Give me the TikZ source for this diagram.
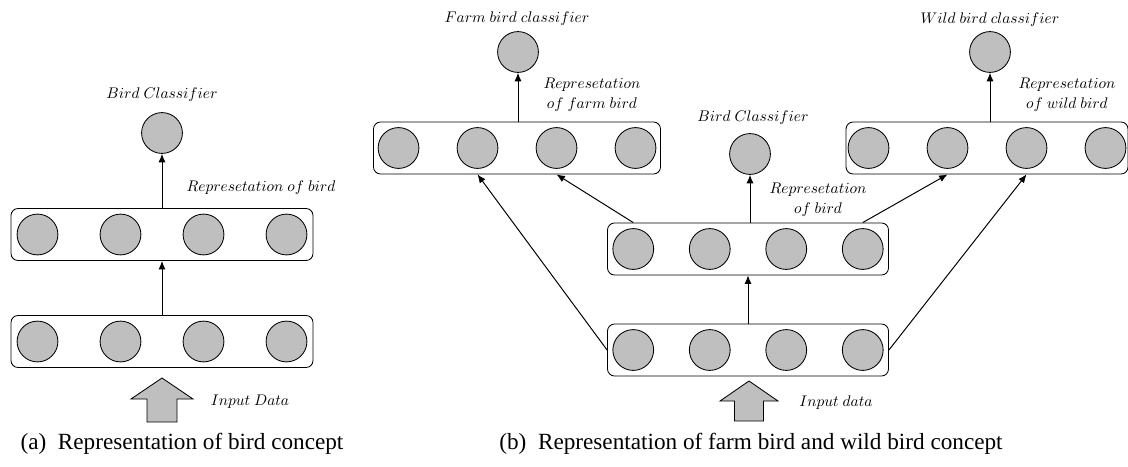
\documentclass[tikz,border=0pt]{standalone}
\usepackage{fontspec}
\setmainfont{Liberation Serif}
\usepackage{tikz}
\usetikzlibrary{arrows.meta, positioning}

% one layer: a rounded box with four units in it
\newcommand{\neuronlayer}[5]{%
  \node[layerbox, minimum width={#4*0.025cm}] (#1) at (#2,#3) {};
  \foreach \k in {1,...,4}
    \node[unit] (#1-\k) at ({#2+(\k-2.5)*#5},#3) {};
}

\begin{document}
\begin{tikzpicture}[x=0.025cm, y=-0.025cm,
  unit/.style={circle, draw, line width=0.6pt, fill=gray!50, minimum size=1.02cm, inner sep=0pt},
  layerbox/.style={draw, line width=0.6pt, rounded corners=5pt, minimum height=1.3cm, inner sep=0pt},
  link/.style={-{Latex[length=6pt,width=5pt]}, line width=0.7pt},
  tag/.style={font=\fontsize{11.3}{14}\selectfont, align=center, inner sep=0pt},
  caption/.style={font=\fontsize{16.5}{20}\selectfont, inner sep=0pt},
  bigarrow/.style={draw, line width=0.6pt, fill=gray!50}]
\useasboundingbox (0,0) rectangle (1128,466);

% (a) bird concept
\neuronlayer{inA}{162}{341.5}{302}{83}
\neuronlayer{repA}{162}{234.5}{302}{83}
\node[unit] (clsA) at (162,133) {};
\draw[link] (inA.north) -- (repA.south);
\draw[link] (repA.north) -- (clsA.south);
\node[tag] (clsAlbl) at (162,95) {$Bird\ Classifier$};
\node[tag] (repAlbl) at (261,188) {$Represetation\ of\ bird$};
\draw[bigarrow] (162,378) -- ++(31,21) -- ++(-16,0) -- ++(0,23) -- ++(-30,0) -- ++(0,-23) -- ++(-16,0) -- cycle;
\node[tag] (inAlbl) at (250,402) {$Input\ Data$};
\node[caption] (capA) at (182,444) {(a)\enspace Representation of bird concept};

% (b) farm bird and wild bird concept
\neuronlayer{inB}{748}{350}{281}{76.5}
\neuronlayer{repB}{748}{249}{281}{76.5}
\neuronlayer{farmRep}{517}{148}{287}{79}
\neuronlayer{wildRep}{987}{148}{282}{79}
\node[unit] (midCls) at (750,154) {};
\node[unit] (farmCls) at (518,52) {};
\node[unit] (wildCls) at (990,52) {};

\draw[link] (inB.north) -- (repB.south);
\draw[link] (repB.north -| midCls) -- (midCls.south);
\draw[link] (farmRep.north -| farmCls) -- (farmCls.south);
\draw[link] (wildRep.north -| wildCls) -- (wildCls.south);
\draw[link] (inB.west) -- (farmRep.south -| farmRep-2);
\draw[link] (repB.north -| repB-1) -- (farmRep.south -| farmRep-3);
\draw[link] (repB.north -| repB-4) -- (wildRep.south -| wildRep-2);
\draw[link] (inB.east) -- (wildRep.south -| wildRep-3);

\node[tag] (farmClsLbl) at (517,19) {$Farm\ bird\ classifier$};
\node[tag] (wildClsLbl) at (990,20) {$Wild\ bird\ classifier$};
\node[tag] (midClsLbl) at (753,118) {$Bird\ Classifier$};
\node[tag] (farmRepLbl) at (592,95) {$Represetation$\\$of\ farm\ bird$};
\node[tag] (midRepLbl) at (818,200) {$Represetation$\\$of\ bird$};
\node[tag] (wildRepLbl) at (1067,95) {$Represetation$\\$of\ wild\ bird$};
\draw[bigarrow] (749,381) -- ++(29,20) -- ++(-14.5,0) -- ++(0,20) -- ++(-29,0) -- ++(0,-20) -- ++(-14.5,0) -- cycle;
\node[tag] (inBlbl) at (836,403) {$Input\ data$};
\node[caption] (capB) at (751,444) {(b)\enspace Representation of farm bird and wild bird concept};
\end{tikzpicture}
\end{document}
